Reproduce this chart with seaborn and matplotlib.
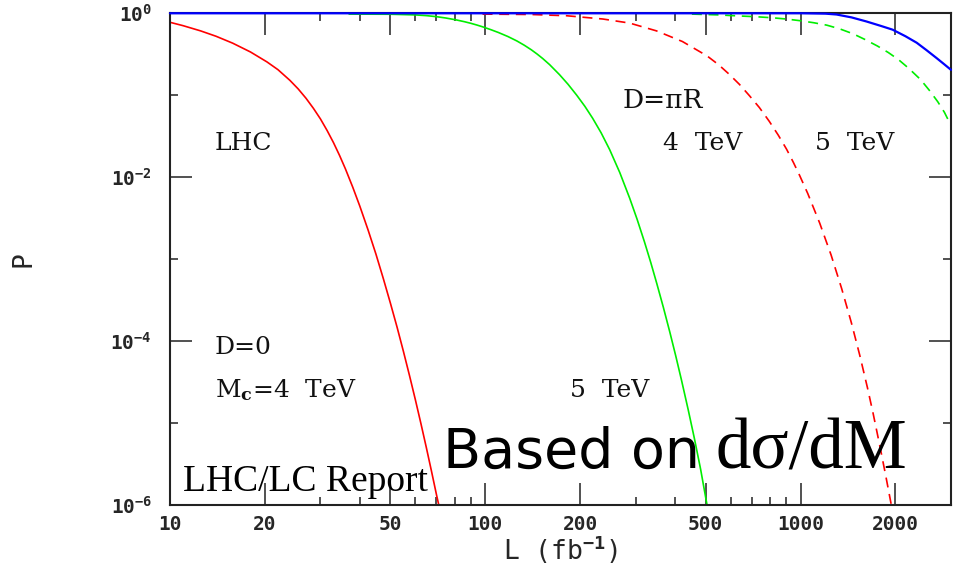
import matplotlib
matplotlib.use("Agg")
import matplotlib.pyplot as plt
import seaborn as sns
from matplotlib.ticker import FixedLocator, NullFormatter

# Luminosity L (fb^-1) and probability P for each scenario
# D = 0, M_c = 4 TeV
L_d0_4tev = [10, 11, 12.5, 14, 15.8, 18, 20.3, 22, 24, 25.5, 27, 28.5, 30, 31.5,
             33, 34.5, 36, 38, 40, 42.5, 45, 47.5, 50, 52.5, 55, 57.5, 60, 62.5,
             65, 67.5, 70, 71.2]
P_d0_4tev = [0.776, 0.706, 0.610, 0.524, 0.432, 0.337, 0.255, 0.205, 0.152,
             0.1194, 0.0918, 0.0692, 0.0514, 0.0371, 0.0264, 0.0184, 0.01265,
             7.52e-3, 4.43e-3, 2.26e-3, 1.15e-3, 5.77e-4, 2.91e-4, 1.48e-4,
             7.48e-5, 3.79e-5, 1.93e-5, 9.84e-6, 5.04e-6, 2.59e-6, 1.34e-6, 1.0e-6]

# D = 0, M_c = 5 TeV
L_d0_5tev = [37, 50, 60, 65, 70, 75, 81, 86, 90, 94, 98, 104, 110, 118, 126, 133,
             140, 146, 152, 160, 172, 183, 195, 207, 219, 233, 248, 267, 287, 303,
             320, 335, 350, 367, 385, 402, 419, 440, 460, 482, 505]
P_d0_5tev = [0.977, 0.973, 0.955, 0.936, 0.909, 0.875, 0.829, 0.788, 0.754, 0.719,
             0.684, 0.632, 0.583, 0.520, 0.459, 0.407, 0.358, 0.318, 0.281, 0.236,
             0.178, 0.136, 0.100, 0.0731, 0.0524, 0.0348, 0.0217, 0.0114, 5.55e-3,
             3.07e-3, 1.61e-3, 9.04e-4, 5.02e-4, 2.59e-4, 1.28e-4, 6.56e-5,
             3.35e-5, 1.46e-5, 6.61e-6, 2.72e-6, 1.0e-6]

# D = pi R, 4 TeV
L_dpi_4tev = [98, 140, 181, 236, 287, 349, 422, 505, 550, 594, 640, 688, 740, 796,
              850, 903, 950, 993, 1054, 1150, 1250, 1350, 1450, 1540, 1630, 1700,
              1782, 1860, 1940]
P_dpi_4tev = [0.977, 0.966, 0.933, 0.851, 0.759, 0.610, 0.452, 0.302, 0.235,
              0.180, 0.1355, 0.0989, 0.0708, 0.0479, 0.0325, 0.0219, 0.0150,
              0.0105, 6.31e-3, 2.75e-3, 1.12e-3, 4.37e-4, 1.66e-4, 6.76e-5,
              2.69e-5, 1.29e-5, 5.37e-6, 2.34e-6, 1.0e-6]

# D = pi R, 5 TeV
L_dpi_5tev = [452, 550, 639, 720, 815, 900, 993, 1100, 1211, 1330, 1467, 1600,
              1754, 1900, 2044, 2200, 2403, 2560, 2724, 2860, 3000]
P_dpi_5tev = [0.977, 0.955, 0.927, 0.908, 0.881, 0.851, 0.813, 0.767, 0.716,
              0.646, 0.562, 0.479, 0.398, 0.331, 0.272, 0.214, 0.155, 0.115,
              0.0832, 0.0617, 0.0427]

# Linear collider reach
L_lc = [10, 1000, 1200, 1300, 1450, 1618, 1800, 1958, 2150, 2335, 2508, 2697,
        2850, 3000]
P_lc = [1.0, 1.0, 0.989, 0.966, 0.891, 0.794, 0.700, 0.631, 0.525, 0.437,
        0.355, 0.285, 0.240, 0.204]

x_major = [10, 20, 50, 100, 200, 500, 1000, 2000]
x_minor = [30, 40, 60, 70, 80, 90, 300, 400, 600, 700, 800, 900]
y_major = [1e0, 1e-2, 1e-4, 1e-6]
y_major_labels = [r"$10^{0}$", r"$10^{-2}$", r"$10^{-4}$", r"$10^{-6}$"]
y_minor = [1e-1, 1e-3, 1e-5]

sns.set_style("white")
plt.rcParams["font.family"] = ["DejaVu Sans"]
plt.rcParams["mathtext.fontset"] = "custom"
plt.rcParams["mathtext.rm"] = "DejaVu Sans Mono:bold"
plt.rcParams["mathtext.it"] = "DejaVu Sans Mono:bold"
plt.rcParams["mathtext.bf"] = "DejaVu Sans Mono:bold"

fig = plt.figure(figsize=(9.61, 5.77), dpi=100)
ax = fig.add_axes([0.1769, 0.1248, 0.8127, 0.8522])
ax.set_xscale("log")
ax.set_yscale("log")

red, green, blue = "#ff0000", "#00ee00", "#0000ff"
dash = (0, (6, 4))

sns.lineplot(x=L_d0_4tev, y=P_d0_4tev, ax=ax, color=red, lw=1.2, sort=False, estimator=None)
sns.lineplot(x=L_d0_5tev, y=P_d0_5tev, ax=ax, color=green, lw=1.2, sort=False, estimator=None)
sns.lineplot(x=L_dpi_4tev, y=P_dpi_4tev, ax=ax, color=red, lw=1.2, linestyle=dash,
             sort=False, estimator=None)
sns.lineplot(x=L_dpi_5tev, y=P_dpi_5tev, ax=ax, color=green, lw=1.2, linestyle=dash,
             sort=False, estimator=None)
sns.lineplot(x=L_lc, y=P_lc, ax=ax, color=blue, lw=1.6, sort=False, estimator=None,
             clip_on=False, zorder=3)

ax.set_xlim(10, 3000)
ax.set_ylim(1e-6, 1)

for s in ax.spines.values():
    s.set_linewidth(1.5)
    s.set_color("#222222")

ax.xaxis.set_major_locator(FixedLocator(x_major))
ax.xaxis.set_minor_locator(FixedLocator(x_minor))
ax.set_xticklabels([str(v) for v in x_major])
ax.xaxis.set_minor_formatter(NullFormatter())
ax.yaxis.set_major_locator(FixedLocator(y_major))
ax.yaxis.set_minor_locator(FixedLocator(y_minor))
ax.set_yticklabels(y_major_labels)
ax.yaxis.set_minor_formatter(NullFormatter())

ax.tick_params(which="both", direction="in", top=True, right=True, bottom=True,
               left=True, width=1.1, color="#222222")
ax.tick_params(which="major", length=16)
ax.tick_params(which="minor", length=6)
ax.tick_params(axis="x", which="major", pad=7)
ax.tick_params(axis="y", which="major", pad=13)
for lab in ax.get_xticklabels():
    lab.set_fontfamily("DejaVu Sans Mono")
    lab.set_fontweight("bold")
    lab.set_fontsize(14)
for lab in ax.get_yticklabels():
    lab.set_fontsize(14)

ax.set_xlabel(r"L (fb$^{-1}$)", fontsize=19, fontfamily="DejaVu Sans Mono")
ax.set_ylabel("P", fontsize=19, fontfamily="DejaVu Sans Mono", rotation=90)
ax.xaxis.set_label_coords(0.5, -0.058)
ax.yaxis.set_label_coords(-0.171, 0.5)

serif = dict(transform=ax.transAxes, fontsize=18, fontfamily="DejaVu Serif",
             va="baseline", ha="left", color="#111111")
ax.text(0.0576, 0.722, "LHC", **serif)
ax.text(0.0576, 0.307, "D=0", **serif)
ax.text(0.0576, 0.2196, r"M$_\mathbf{c}$=4  TeV", math_fontfamily="dejavuserif", **serif)
ax.text(0.512, 0.2196, "5  TeV", **serif)
ax.text(0.58, 0.807, "D=πR", **{**serif, "fontsize": 19})
ax.text(0.631, 0.722, "4  TeV", **serif)
ax.text(0.826, 0.722, "5  TeV", **serif)

fig.text(183 / 961, 1 - 491 / 577, "LHC/LC Report", fontsize=27,
         fontfamily="Liberation Serif", va="baseline", ha="left", color="#000000")
fig.text(443 / 961, 1 - 468 / 577, "Based on", fontsize=40,
         fontfamily="DejaVu Sans", va="baseline", ha="left", color="#000000")
fig.text(715 / 961, 1 - 468 / 577, "dσ/dM", fontsize=51,
         fontfamily="Liberation Serif", va="baseline", ha="left", color="#000000")

fig.savefig("out.png", dpi=100)
